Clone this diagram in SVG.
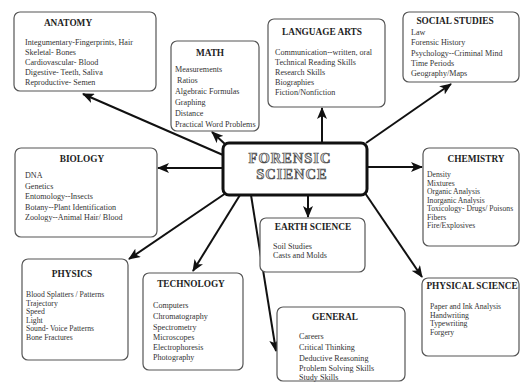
<svg xmlns="http://www.w3.org/2000/svg" width="521" height="383" viewBox="0 0 521 383">
<style>
.box{fill:#fff;stroke:#555;stroke-width:1.2}
.t{font-family:"Liberation Serif",serif;font-size:9.3px;font-weight:bold;fill:#222;text-anchor:middle}
.i{font-family:"Liberation Serif",serif;font-size:8.1px;fill:#333}
.s{font-size:7.7px}
.c{stroke:#111;stroke-width:2;fill:none;marker-end:url(#ah)}
.f{font-family:"Liberation Serif",serif;font-size:14.5px;font-weight:bold;fill:#ddd;stroke:#444;stroke-width:0.7;text-anchor:middle;letter-spacing:1px}
</style>
<defs>
<marker id="ah" viewBox="0 0 12 10" refX="11" refY="5" markerWidth="12" markerHeight="10" orient="auto" markerUnits="userSpaceOnUse"><path d="M0,0 L12,5 L0,10 L3,5 z" fill="#111"/></marker>
</defs>
<rect width="521" height="383" fill="#fff"/>
<g id="connectors">
<line class="c" x1="223" y1="155" x2="83" y2="94"/>
<line class="c" x1="226" y1="145" x2="212" y2="132"/>
<line class="c" x1="322" y1="143" x2="322" y2="108"/>
<line class="c" x1="366" y1="143" x2="451" y2="84"/>
<line class="c" x1="223" y1="168" x2="158" y2="168"/>
<line class="c" x1="367" y1="167" x2="422" y2="167"/>
<line class="c" x1="308" y1="195" x2="308" y2="217"/>
<line class="c" x1="365" y1="193" x2="422" y2="277"/>
<line class="c" x1="226" y1="193" x2="129" y2="259"/>
<line class="c" x1="240" y1="195" x2="193" y2="271"/>
<line class="c" x1="251" y1="195" x2="276" y2="351"/>
</g>
<g id="anatomy">
<rect class="box" x="14" y="12" width="142" height="79" rx="6"/>
<text class="t" x="68" y="26">ANATOMY</text>
<text class="i" x="25" y="45">Integumentary-Fingerprints, Hair</text>
<text class="i" x="25" y="55">Skeletal- Bones</text>
<text class="i" x="25" y="65">Cardiovascular- Blood</text>
<text class="i" x="25" y="75">Digestive-  Teeth, Saliva</text>
<text class="i" x="25" y="85">Reproductive- Semen</text>
</g>
<g id="math">
<rect class="box" x="171" y="41" width="88" height="90" rx="6"/>
<text class="t" x="210" y="56">MATH</text>
<text class="i" x="175" y="72">Measurements</text>
<text class="i" x="177" y="83">Ratios</text>
<text class="i" x="175" y="94">Algebraic Formulas</text>
<text class="i" x="175" y="105">Graphing</text>
<text class="i" x="175" y="116">Distance</text>
<text class="i" x="175" y="127">Practical Word Problems</text>
</g>
<g id="language-arts">
<rect class="box" x="268" y="19" width="117" height="88" rx="6"/>
<text class="t" x="322" y="35">LANGUAGE ARTS</text>
<text class="i" x="275" y="55">Communication--written, oral</text>
<text class="i" x="275" y="65">Technical Reading Skills</text>
<text class="i" x="275" y="75">Research Skills</text>
<text class="i" x="275" y="85">Biographies</text>
<text class="i" x="275" y="95">Fiction/Nonfiction</text>
</g>
<g id="social-studies">
<rect class="box" x="403" y="12" width="116" height="70" rx="6"/>
<text class="t" x="455" y="24">SOCIAL STUDIES</text>
<text class="i" x="411" y="35">Law</text>
<text class="i" x="411" y="45">Forensic History</text>
<text class="i" x="411" y="56">Psychology--Criminal Mind</text>
<text class="i" x="411" y="66">Time Periods</text>
<text class="i" x="411" y="76">Geography/Maps</text>
</g>
<g id="biology">
<rect class="box" x="15" y="148" width="142" height="89" rx="6"/>
<text class="t" x="82" y="162">BIOLOGY</text>
<text class="i" x="25" y="178">DNA</text>
<text class="i" x="25" y="188.5">Genetics</text>
<text class="i" x="25" y="199">Entomology--Insects</text>
<text class="i" x="25" y="209.5">Botany--Plant  Identification</text>
<text class="i" x="25" y="220">Zoology--Animal Hair/ Blood</text>
</g>
<g id="forensic-science">
<rect x="223" y="143" width="144" height="52" rx="6" fill="#fff" stroke="#111" stroke-width="3"/>
<text class="f" x="290" y="163">FORENSIC</text>
<text class="f" x="292" y="179">SCIENCE</text>
</g>
<g id="chemistry">
<rect class="box" x="423" y="148" width="96" height="98" rx="6"/>
<text class="t" x="476" y="162">CHEMISTRY</text>
<text class="i s" x="427" y="177">Density</text>
<text class="i s" x="427" y="185.5">Mixtures</text>
<text class="i s" x="427" y="194">Organic Analysis</text>
<text class="i s" x="427" y="202.5">Inorganic Analysis</text>
<text class="i s" x="427" y="211">Toxicology- Drugs/ Poisons</text>
<text class="i s" x="427" y="219.5">Fibers</text>
<text class="i s" x="427" y="228">Fire/Explosives</text>
</g>
<g id="earth-science">
<rect class="box" x="260" y="218" width="105" height="54" rx="6"/>
<text class="t" x="313" y="230">EARTH SCIENCE</text>
<text class="i" x="273" y="249">Soil Studies</text>
<text class="i" x="273" y="257.5">Casts and Molds</text>
</g>
<g id="physics">
<rect class="box" x="22" y="259" width="106" height="101" rx="6"/>
<text class="t" x="72" y="277">PHYSICS</text>
<text class="i s" x="26" y="297">Blood Splatters / Patterns</text>
<text class="i s" x="26" y="305.5">Trajectory</text>
<text class="i s" x="26" y="314">Speed</text>
<text class="i s" x="26" y="322.5">Light</text>
<text class="i s" x="26" y="331">Sound- Voice Patterns</text>
<text class="i s" x="26" y="339.5">Bone Fractures</text>
</g>
<g id="technology">
<rect class="box" x="143" y="273" width="100" height="97" rx="6"/>
<text class="t" x="191" y="287">TECHNOLOGY</text>
<text class="i" x="153" y="308">Computers</text>
<text class="i" x="153" y="319">Chromatography</text>
<text class="i" x="153" y="330">Spectrometry</text>
<text class="i" x="153" y="340">Microscopes</text>
<text class="i" x="153" y="350">Electrophoresis</text>
<text class="i" x="153" y="360">Photography</text>
</g>
<g id="general">
<rect class="box" x="277" y="307" width="128" height="74" rx="6"/>
<text class="t" x="335" y="320">GENERAL</text>
<text class="i" x="299" y="339">Careers</text>
<text class="i" x="299" y="350">Critical  Thinking</text>
<text class="i" x="299" y="361">Deductive Reasoning</text>
<text class="i" x="299" y="371">Problem Solving Skills</text>
<text class="i" x="299" y="380">Study  Skills</text>
</g>
<g id="physical-science">
<rect class="box" x="422" y="278" width="97" height="78" rx="6"/>
<text class="t" x="472" y="289">PHYSICAL SCIENCE</text>
<text class="i s" x="430" y="309">Paper and Ink Analysis</text>
<text class="i s" x="430" y="317.5">Handwriting</text>
<text class="i s" x="430" y="326">Typewriting</text>
<text class="i s" x="430" y="334.5">Forgery</text>
</g>
</svg>
